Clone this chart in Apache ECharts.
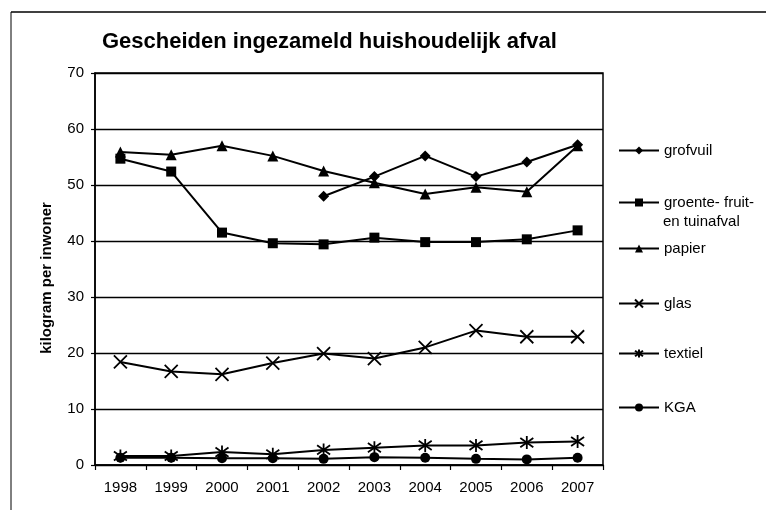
<!DOCTYPE html>
<html>
<head>
<meta charset="utf-8">
<script src="https://cdn.jsdelivr.net/npm/echarts@6/dist/echarts.min.js"></script>
<style>
  html, body { margin: 0; padding: 0; background: #fff; }
  #chart { width: 766px; height: 510px; }
</style>
</head>
<body>
<div id="chart"></div>
<script>
const years = ['1998', '1999', '2000', '2001', '2002', '2003', '2004', '2005', '2006', '2007']

// kilogram per inwoner
const grofvuil = [null, null, null, null, 48.0, 51.5, 55.2, 51.5, 54.1, 57.2]
const gft      = [54.7, 52.4, 41.5, 39.6, 39.4, 40.6, 39.8, 39.8, 40.3, 41.9]
const papier   = [55.9, 55.4, 57.0, 55.2, 52.5, 50.4, 48.4, 49.6, 48.8, 57.0]
const glas     = [18.4, 16.7, 16.2, 18.2, 19.9, 19.0, 21.0, 24.0, 22.9, 22.9]
const textiel  = [1.6, 1.6, 2.3, 1.9, 2.7, 3.1, 3.5, 3.5, 4.0, 4.2]
const kga      = [1.3, 1.3, 1.2, 1.2, 1.1, 1.4, 1.3, 1.1, 1.0, 1.3]

const seriesNames  = ['grofvuil', 'groente- fruit- en tuinafval', 'papier', 'glas', 'textiel', 'KGA']
const legendLabels = ['grofvuil', 'groente- fruit-', 'papier', 'glas', 'textiel', 'KGA']
const yTicks = [0, 10, 20, 30, 40, 50, 60, 70]

const FONT = '"Liberation Sans", Arial, sans-serif'
const INK = '#000'

// stroke-only symbols
const crossPath = 'path://M0,0L10,10M10,0L0,10'
const starPath  = 'path://M5,0L5,10M0,1.5L10,8.5M10,1.5L0,8.5'

const looks = [
  { symbol: 'diamond', symbolSize: 11 },
  { symbol: 'rect', symbolSize: 10 },
  { symbol: 'triangle', symbolSize: 11 },
  { symbol: crossPath, symbolSize: 13, stroke: true },
  { symbol: starPath, symbolSize: 13, stroke: true },
  { symbol: 'circle', symbolSize: 10 },
]
const values = [grofvuil, gft, papier, glas, textiel, kga]
const legendTops = [143, 195, 241, 296, 346, 400]

const chart = echarts.init(document.getElementById('chart'))

chart.setOption({
  animation: false,
  backgroundColor: '#fff',
  title: {
    text: 'Gescheiden ingezameld huishoudelijk afval',
    left: 102,
    top: 31,
    padding: 0,
    textStyle: { fontFamily: FONT, fontSize: 22, fontWeight: 'bold', color: INK },
  },
  legend: legendLabels.map((label, i) => ({
    data: [seriesNames[i]],
    left: 618,
    top: legendTops[i],
    padding: 0,
    itemWidth: 40,
    itemHeight: 10,
    formatter: () => label,
    textStyle: { fontFamily: FONT, fontSize: 15, color: INK },
  })),
  graphic: [
    { type: 'line', shape: { x1: 11, y1: 12, x2: 766, y2: 12 }, style: { stroke: INK, lineWidth: 1.5 } },
    { type: 'line', shape: { x1: 11, y1: 12, x2: 11, y2: 510 }, style: { stroke: INK, lineWidth: 1 } },
    {
      type: 'text', left: 663, top: 214,
      style: { text: 'en tuinafval', fontFamily: FONT, fontSize: 15, fill: INK },
    },
  ],
  grid: {
    left: 95, right: 163, top: 73, bottom: 45,
    show: true, borderColor: INK, borderWidth: 1.5, backgroundColor: '#fff',
  },
  xAxis: {
    type: 'category',
    data: years,
    boundaryGap: true,
    axisLine: { lineStyle: { color: INK, width: 1.5 } },
    axisTick: { show: true, length: 5, lineStyle: { color: INK, width: 1.2 } },
    axisLabel: { fontFamily: FONT, fontSize: 15, color: INK, margin: 15 },
  },
  yAxis: {
    type: 'value',
    min: yTicks[0],
    max: yTicks[yTicks.length - 1],
    interval: 10,
    name: 'kilogram per inwoner',
    nameLocation: 'middle',
    nameRotate: 90,
    nameGap: 41,
    nameTextStyle: { fontFamily: FONT, fontSize: 15, fontWeight: 'bold', color: INK, padding: [0, 0, 0, -18] },
    axisLine: { show: true, lineStyle: { color: INK, width: 1.5 } },
    axisTick: { show: true, length: 4, lineStyle: { color: INK, width: 1.2 } },
    axisLabel: { fontFamily: FONT, fontSize: 15, color: INK, margin: 11 },
    splitLine: { lineStyle: { color: INK, width: 1.3 } },
  },
  series: seriesNames.map((name, i) => ({
    name,
    type: 'line',
    data: values[i],
    symbol: looks[i].symbol,
    symbolSize: looks[i].symbolSize,
    showAllSymbol: true,
    connectNulls: false,
    lineStyle: { color: INK, width: 2 },
    itemStyle: looks[i].stroke
      ? { color: 'none', borderColor: INK, borderWidth: 1.8 }
      : { color: INK, borderColor: INK, borderWidth: 0 },
    emphasis: { disabled: true },
  })),
})
</script>
</body>
</html>
